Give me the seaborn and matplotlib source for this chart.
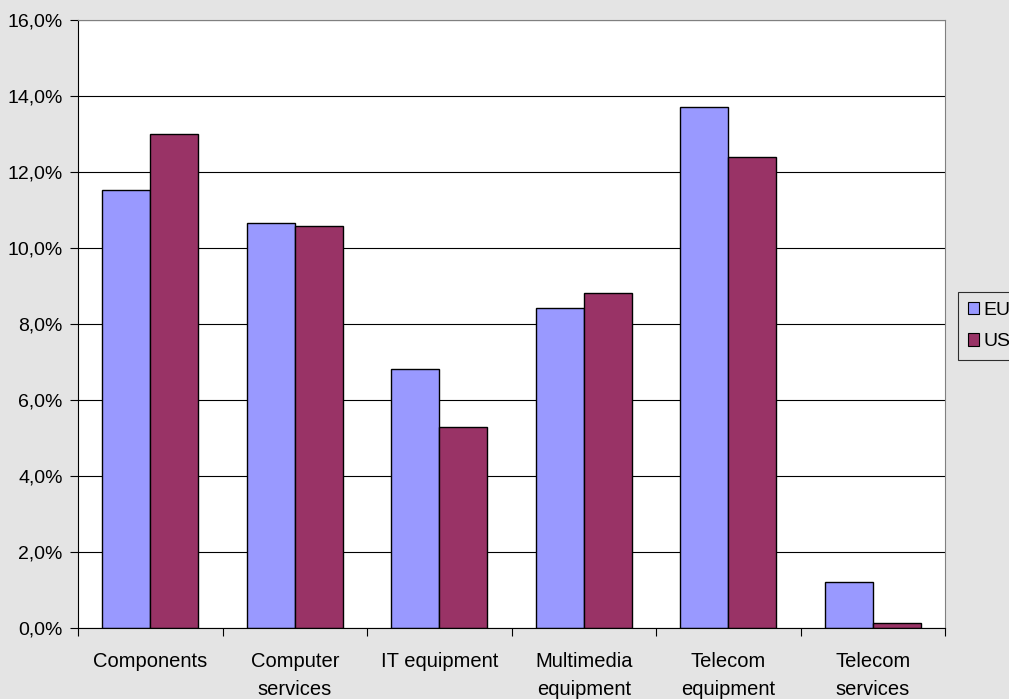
import matplotlib
matplotlib.use("Agg")
import matplotlib.pyplot as plt
import seaborn as sns
import pandas as pd
from matplotlib.patches import Patch
from matplotlib.ticker import FuncFormatter, FixedLocator

categories = ["Components", "Computer\nservices", "IT equipment", "Multimedia\nequipment",
              "Telecom\nequipment", "Telecom\nservices"]
eu_values = [11.53, 10.65, 6.82, 8.42, 13.71, 1.21]
us_values = [13.0, 10.58, 5.29, 8.82, 12.39, 0.13]
series = ["EU", "US"]
colors = ["#9999FF", "#993366"]

df = pd.DataFrame({
    "category": categories * 2,
    "series": ["EU"] * len(categories) + ["US"] * len(categories),
    "value": eu_values + us_values,
})

bg = "#E4E4E4"
fonts = ['Liberation Sans', 'DejaVu Sans']
fig = plt.figure(figsize=(10.09, 6.99), dpi=100, facecolor=bg)
ax = fig.add_axes([78 / 1009, 1 - 628 / 699, (945 - 78) / 1009, (628 - 20) / 699])
ax.set_facecolor("white")
plt.rcParams['font.family'] = fonts

sns.barplot(data=df, x="category", y="value", hue="series", palette=colors,
            width=0.664, edgecolor="black", linewidth=1.0, ax=ax, legend=False,
            saturation=1, errorbar=None)

ax.set_ylim(0, 16)
ax.set_xlim(-0.5, len(categories) - 0.5)
ax.set_yticks([0, 2, 4, 6, 8, 10, 12, 14, 16])
ax.yaxis.set_major_formatter(FuncFormatter(lambda v, p: f"{v:.1f}%".replace(".", ",")))
ax.grid(axis="y", color="black", linewidth=0.8)
ax.set_axisbelow(True)

ax.set_xticks(range(len(categories)))
ax.set_xticklabels(categories, fontsize=14.5, family=fonts, linespacing=1.6)
ax.tick_params(axis="x", which="major", length=0, pad=17)
ax.xaxis.set_minor_locator(FixedLocator([i - 0.5 for i in range(len(categories) + 1)]))
ax.tick_params(axis="x", which="minor", length=6, direction="out", width=0.8)
ax.tick_params(axis="y", length=6, direction="out", width=0.8, labelsize=14, pad=5)
for lab in ax.get_yticklabels():
    lab.set_family(fonts)

ax.set_xlabel("")
ax.set_ylabel("")
ax.spines["left"].set_color("black")
ax.spines["bottom"].set_color("black")
ax.spines["top"].set_color("#808080")
ax.spines["right"].set_color("#808080")
for s in ax.spines.values():
    s.set_linewidth(0.8)

handles = [Patch(facecolor=c, edgecolor="black", linewidth=0.8) for c in colors]
leg = fig.legend(handles, series, loc="upper left", bbox_to_anchor=(958 / 1009, 1 - 292 / 699),
                 frameon=True, fancybox=False, edgecolor="black", facecolor=bg,
                 handlelength=0.6, handleheight=0.6, handletextpad=0.2,
                 borderpad=0.5, labelspacing=0.75, borderaxespad=0,
                 prop={"family": fonts, "size": 14})
leg.get_frame().set_linewidth(0.8)

fig.savefig("out.png", dpi=100, facecolor=bg)
